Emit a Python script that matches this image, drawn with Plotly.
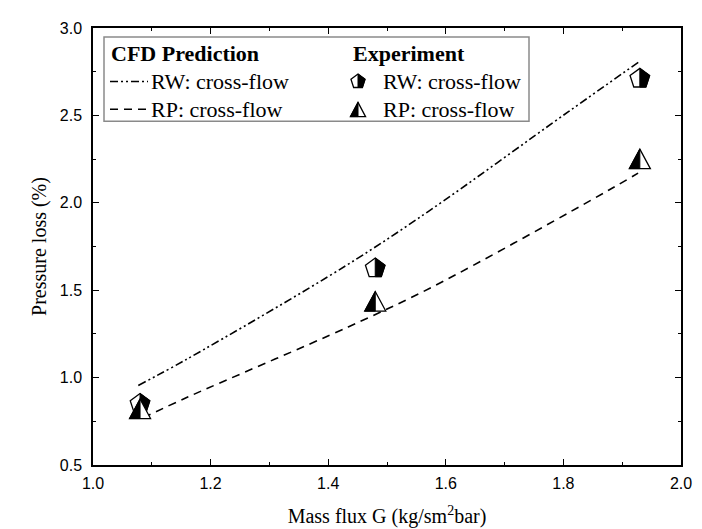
import plotly.graph_objects as go

# ---- data ----
rw_cfd_x = [1.077, 1.162, 1.430, 1.570, 1.808, 1.930]
rw_cfd_y = [0.955, 1.110, 1.640, 1.950, 2.520, 2.810]
rp_cfd_x = [1.085, 1.162, 1.434, 1.578, 1.876, 1.927]
rp_cfd_y = [0.770, 0.890, 1.290, 1.520, 2.070, 2.170]

rw_exp_x = [1.08, 1.48, 1.93]
rw_exp_y = [0.85, 1.625, 2.71]
rp_exp_x = [1.08, 1.48, 1.93]
rp_exp_y = [0.82, 1.435, 2.25]

x_ticks = [1.0, 1.2, 1.4, 1.6, 1.8, 2.0]
y_ticks = [0.5, 1.0, 1.5, 2.0, 2.5, 3.0]

SERIF = "Liberation Serif"
SANS = "Liberation Sans"
DASH_RW = "8px,3px,2px,3px,2px,3px"
DASH_RP = "8px,6px"


def path_of(pts):
    return "M" + " L".join(f"{a:.2f},{b:.2f}" for a, b in pts) + " Z"


def pentagon_pts(r):
    return [(0, r), (0.951 * r, 0.309 * r), (0.588 * r, -0.809 * r),
            (-0.588 * r, -0.809 * r), (-0.951 * r, 0.309 * r)]


def pentagon_right(r):
    return [(0, r), (0.951 * r, 0.309 * r), (0.588 * r, -0.809 * r), (0, -0.809 * r)]


def triangle_pts(w, h):
    return [(0, h / 2 + 0.5), (w / 2, -h / 2), (-w / 2, -h / 2)]


def triangle_left(w, h):
    return [(0, h / 2 + 0.5), (0, -h / 2), (-w / 2, -h / 2)]


def marker_shapes(kind, xa, ya, xref, yref, scale=1.0):
    out = []
    base = dict(type="path", xref=xref, yref=yref, xsizemode="pixel", ysizemode="pixel",
                xanchor=xa, yanchor=ya, layer="above")
    if kind == "pent":
        r = 10.3 * scale
        out.append(dict(base, path=path_of(pentagon_pts(r)), fillcolor="white",
                        line=dict(color="black", width=1.3)))
        out.append(dict(base, path=path_of(pentagon_right(r)), fillcolor="black",
                        line=dict(color="black", width=1.0)))
    else:
        w, h = 21 * scale, 19 * scale
        out.append(dict(base, path=path_of(triangle_pts(w, h)), fillcolor="white",
                        line=dict(color="black", width=1.3)))
        out.append(dict(base, path=path_of(triangle_left(w, h)), fillcolor="black",
                        line=dict(color="black", width=1.0)))
    return out


fig = go.Figure()
fig.add_trace(go.Scatter(x=rw_cfd_x, y=rw_cfd_y, mode="lines", name="CFD RW: cross-flow",
                         line=dict(color="black", width=1.6, dash=DASH_RW, shape="spline")))
fig.add_trace(go.Scatter(x=rp_cfd_x, y=rp_cfd_y, mode="lines", name="CFD RP: cross-flow",
                         line=dict(color="black", width=1.6, dash=DASH_RP, shape="spline")))
fig.add_trace(go.Scatter(x=rw_exp_x, y=rw_exp_y, mode="markers", name="Exp RW: cross-flow",
                         marker=dict(symbol="pentagon", size=10, color="white")))
fig.add_trace(go.Scatter(x=rp_exp_x, y=rp_exp_y, mode="markers", name="Exp RP: cross-flow",
                         marker=dict(symbol="triangle-up", size=9, color="white")))

shapes = []
for xv, yv in zip(rw_exp_x, rw_exp_y):
    shapes += marker_shapes("pent", xv, yv, "x", "y")
for xv, yv in zip(rp_exp_x, rp_exp_y):
    shapes += marker_shapes("tri", xv, yv, "x", "y")

# ---- hand-built legend (paper coordinates) ----
PL, PW, PB, PH = 85, 588, 457, 441


def px(v):
    return (v - PL) / PW


def py(v):
    return (PB - v) / PH


shapes.append(dict(type="rect", xref="paper", yref="paper", x0=px(96), x1=px(521),
                   y0=py(110), y1=py(25), fillcolor="white",
                   line=dict(color="#8a8a8a", width=1.5), layer="above"))
shapes.append(dict(type="line", xref="paper", yref="paper", x0=px(102), x1=px(140),
                   y0=py(70), y1=py(70), line=dict(color="black", width=1.5, dash=DASH_RW),
                   layer="above"))
shapes.append(dict(type="line", xref="paper", yref="paper", x0=px(102), x1=px(140),
                   y0=py(98), y1=py(98), line=dict(color="black", width=1.5, dash=DASH_RP),
                   layer="above"))
shapes += marker_shapes("pent", px(350), py(70), "paper", "paper", scale=0.72)
shapes += marker_shapes("tri", px(350), py(98.5), "paper", "paper", scale=0.72)

ann = []
def txt(t, x, y, bold=False):
    ann.append(dict(text=f"<b>{t}</b>" if bold else t, xref="paper", yref="paper",
                    x=x, y=y, xanchor="left", yanchor="middle", showarrow=False,
                    font=dict(family=SERIF, size=22, color="black")))

txt("CFD Prediction", px(101), py(42), bold=True)
txt("Experiment", px(343), py(42), bold=True)
txt("RW: cross-flow", px(141), py(70))
txt("RP: cross-flow", px(141), py(98))
txt("RW: cross-flow", px(373), py(70))
txt("RP: cross-flow", px(373), py(98))

axis_common = dict(showline=True, linecolor="black", linewidth=1.5, mirror="allticks",
                   ticks="inside", ticklen=6, tickwidth=1.3, tickcolor="black",
                   showgrid=False, zeroline=False,
                   tickfont=dict(family=SANS, size=16, color="black"))

fig.update_layout(
    width=702, height=529,
    margin=dict(l=85, r=29, t=16, b=72),
    paper_bgcolor="white", plot_bgcolor="white",
    showlegend=False,
    shapes=shapes, annotations=ann,
    xaxis=dict(axis_common, range=[1.0, 2.0], tickvals=x_ticks,
               ticktext=[f"{v:.1f}" for v in x_ticks], ticklabelstandoff=3,
               minor=dict(ticks="inside", dtick=0.1, tick0=1.0, ticklen=3.5, tickcolor="black"),
               title=dict(text="Mass flux G (kg/sm<sup>2</sup>bar)", standoff=18,
                          font=dict(family=SERIF, size=20, color="black"))),
    yaxis=dict(axis_common, range=[0.5, 3.0], tickvals=y_ticks,
               ticktext=[f"{v:.1f}" for v in y_ticks], ticklabelstandoff=6,
               minor=dict(ticks="inside", dtick=0.25, tick0=0.5, ticklen=3.5, tickcolor="black"),
               title=dict(text="Pressure loss (%)", standoff=8,
                          font=dict(family=SERIF, size=20, color="black"))),
)

fig.write_html("out.html")
